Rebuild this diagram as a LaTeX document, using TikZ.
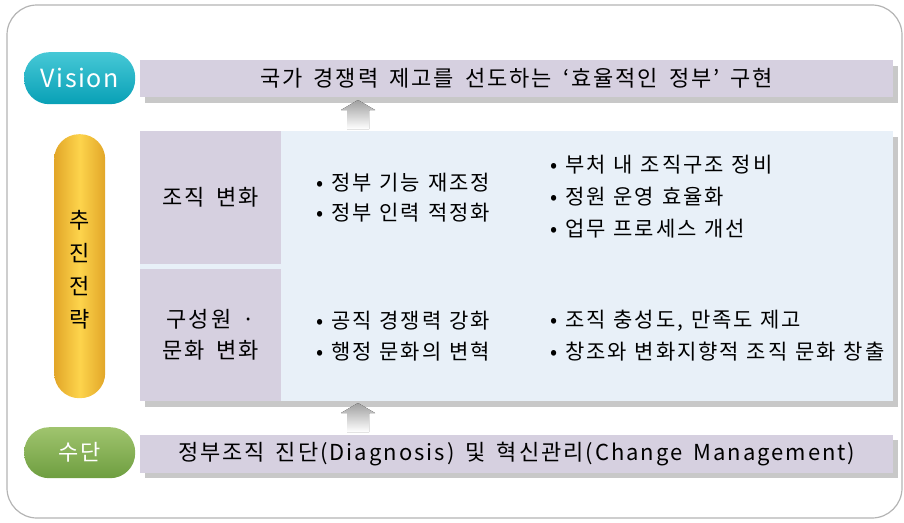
\documentclass[tikz,border=0pt]{standalone}
\usepackage{fontspec}
\setmainfont{Noto Sans CJK KR}[LetterSpace=9, WordSpace=1.2]
\newfontfamily\barfont{Noto Sans CJK KR}[LetterSpace=9, WordSpace=1.6]
\newfontfamily\pillfont{Noto Sans CJK KR}[LetterSpace=6]
\usetikzlibrary{backgrounds}
\definecolor{barpurple}{HTML}{D6D0E0}
\definecolor{lightblue}{HTML}{E8F0F8}
\definecolor{shadowgray}{HTML}{C8C8C8}
\definecolor{framegray}{HTML}{B4B4B4}
\definecolor{tealtop}{RGB}{70,200,214}
\definecolor{tealbot}{RGB}{8,160,182}
\definecolor{goldedge}{RGB}{226,166,40}
\definecolor{goldmid}{RGB}{253,212,76}
\definecolor{greentop}{RGB}{160,196,110}
\definecolor{greenbot}{RGB}{110,158,64}
\tikzset{
  barbox/.style={fill=barpurple, draw=none, inner sep=0pt, anchor=north west},
  bluebox/.style={fill=lightblue, draw=none, inner sep=0pt, anchor=north west},
  bartext/.style={font=\barfont\fontsize{22}{26}\selectfont, text=black, inner sep=0pt},
  itemtext/.style={font=\fontsize{21}{24}\selectfont, text=black, inner sep=0pt, anchor=west},
  pill/.style={rounded corners=25pt, draw=none, inner sep=0pt, anchor=north west},
  uparrow/.style={top color=gray!75, bottom color=white, draw=none},
}
\begin{document}
\begin{tikzpicture}[x=1pt,y=-1pt]
\useasboundingbox (0,0) rectangle (904,522);
% outer frame
\draw[framegray, line width=1.2pt, rounded corners=30pt] (7,5) rectangle (902,518);

% Vision bar
\node[barbox, minimum width=753, minimum height=37] (vbar) at (140,60) {};
\node[bartext] (vtext) at ([xshift=0]vbar.center) {국가 경쟁력 제고를 선도하는 ‘효율적인 정부’ 구현};

% middle block
\node[bluebox, minimum width=753, minimum height=270] (mid) at (140,131) {};
\node[barbox, minimum width=141, minimum height=133] (rowA) at (140,131) {};
\node[barbox, minimum width=141, minimum height=132] (rowB) at (140,269) {};
\node[bartext] (rowAtext) at (rowA.center) {조직 변화};
\node[bartext, align=center, font=\barfont\fontsize{22}{31}\selectfont] (rowBtext) at (rowB.center) {구성원 ·\\문화 변화};

\node[itemtext] (a1) at (316,183) {• 정부 기능 재조정};
\node[itemtext] (a2) at (316,213) {• 정부 인력 적정화};
\node[itemtext] (a3) at (550,165) {• 부처 내 조직구조 정비};
\node[itemtext] (a4) at (550,197) {• 정원 운영 효율화};
\node[itemtext] (a5) at (550,229) {• 업무 프로세스 개선};
\node[itemtext] (b1) at (316,321) {• 공직 경쟁력 강화};
\node[itemtext] (b2) at (316,352) {• 행정 문화의 변혁};
\node[itemtext] (b3) at (550,321) {• 조직 충성도, 만족도 제고};
\node[itemtext] (b4) at (550,352) {• 창조와 변화지향적 조직 문화 창출};

% bottom bar
\node[barbox, minimum width=753, minimum height=38] (bbar) at (140,435) {};
\node[bartext] (btext) at ([xshift=0]bbar.center) {정부조직 진단(Diagnosis) 및 혁신관리(Change Management)};

% shadows
\begin{pgfonlayer}{background}
\fill[shadowgray] ([shift={(5,6)}]vbar.north west) rectangle ([shift={(5,6)}]vbar.south east);
\fill[shadowgray] ([shift={(5,6)}]mid.north west) rectangle ([shift={(5,6)}]mid.south east);
\fill[shadowgray] ([shift={(5,5)}]bbar.north west) rectangle ([shift={(5,5)}]bbar.south east);
\end{pgfonlayer}

% arrows
\coordinate (t1) at (358,100);
\fill[uparrow] (t1) -- (375,110) -- (369,110) -- (369,129) -- (347,129) -- (347,110) -- (341,110) -- cycle;
\coordinate (t2) at (358,403);
\fill[uparrow] (t2) -- (375,413) -- (369,413) -- (369,432) -- (347,432) -- (347,413) -- (341,413) -- cycle;

% pills
\node[pill, minimum width=111, minimum height=52, top color=tealtop, bottom color=tealbot] (vision) at (24,52) {};
\node[text=white, font=\pillfont\fontsize{25}{28}\selectfont] (visiontext) at (vision.center) {Vision};

\node[pill, minimum width=51, minimum height=264, left color=goldedge, right color=goldedge, middle color=goldmid] (strat) at (54,134) {};
\node[font=\fontsize{22}{33}\selectfont, align=center, inner sep=0pt] (strattext) at ([yshift=-4]strat.center) {추\\진\\전\\략};

\node[pill, minimum width=111, minimum height=51, top color=greentop, bottom color=greenbot] (means) at (24,427) {};
\node[text=white, font=\fontsize{22}{26}\selectfont] (meanstext) at (means.center) {수단};
\end{tikzpicture}
\end{document}
